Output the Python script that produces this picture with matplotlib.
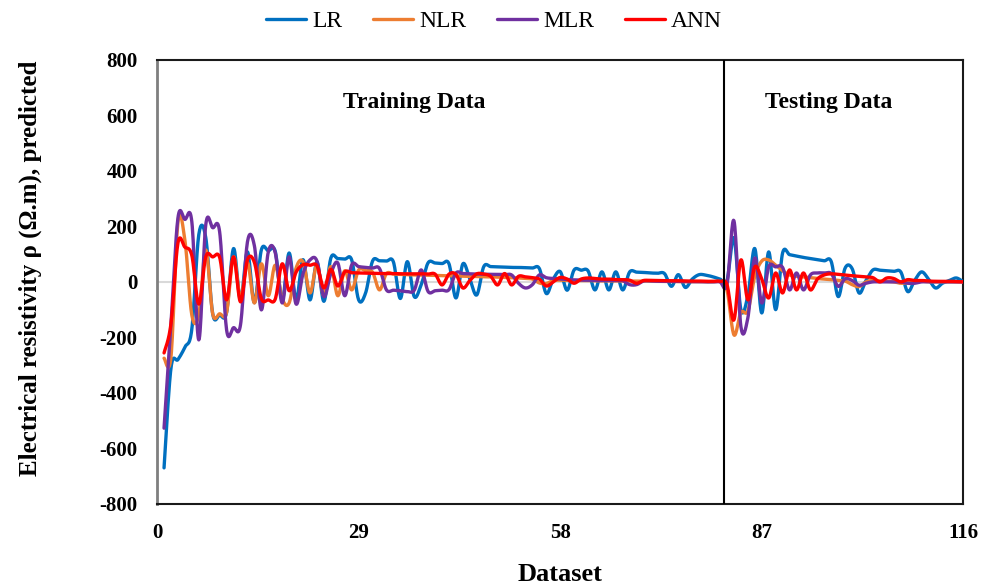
import numpy as np
import matplotlib
matplotlib.use("Agg")
import matplotlib.pyplot as plt

# ---------------- data ----------------
x_ticks = [0, 29, 58, 87, 116]
y_ticks = [-800, -600, -400, -200, 0, 200, 400, 600, 800]
split_x = 81.5
dataset = list(range(1, 117))

lr = [-670, -310, -280, -235, -170, 170, 160, -115, -120, -110,
      120, -65, 108, -75, 115, 112, 110, -65, 104, -65,
      80, -65, 72, -70, 86, 84, 82, 79, -65, -40,
      75, 76, 75, 72, -60, 73, -53, -10, 69, 68,
      66, 65, -58, 65, 10, -47, 55, 55, 54, 53,
      52, 52, 51, 50, 48, -42, 10, 37, -30, 43,
      42, 40, -29, 36, -29, 36, -29, 36, 35, 34,
      32, 31, 30, -16, 26, -20, 10, 26, 24, 18,
      10, 5, 158, -100, -50, 120, -112, 108, -100, 104,
      98, 93, 88, 84, 80, 76, 73, -53, 50, 48,
      -40, 5, 43, 42, 40, 38, 36, -35, 5, 36,
      10, -22, -5, 5, 14, 0]

nlr = [-275, -270, 215, 150, -120, -118, 115, -115, -115, -110,
       90, -60, 70, -76, 65, -50, 60, -60, -76, 50,
       72, -40, 60, -50, 55, -50, 40, -29, 43, 40,
       35, -29, 30, 28, 27, 26, 25, 24, 24, 23,
       22, 22, 21, 20, 20, 19, 18, 18, 17, 16,
       15, 14, 12, 10, -4, -6, 5, 6, 5, 5,
       5, 5, 4, 4, 4, 4, 3, 3, 3, 3,
       2, 2, 2, 2, 1, 1, 1, 1, 0, 0,
       0, -30, -191, -110, -105, 20, 75, 79, 60, 40,
       25, 20, 18, 15, 12, 10, 8, 5, 3, -10,
       -17, 0, 5, 3, 2, 0, -5, -3, 0, 2,
       0, 0, 0, 0, 0, 0]

mlr = [-527, -150, 230, 225, 216, -209, 205, 195, 180, -173,
       -165, -155, 144, 130, -101, 108, 105, -76, 90, -80,
       30, 79, 75, -53, 30, 68, -50, 61, 55, 52,
       50, 48, -29, -30, -32, -35, -30, 43, -35, -32,
       -30, -28, 32, 30, 29, 28, 28, 27, 27, 26,
       25, -5, -22, -10, 25, 15, 12, 10, 8, 7,
       6, 6, 5, 5, 5, 5, 4, -10, -10, 3,
       3, 2, 2, 2, 2, 1, 1, 1, 0, 0,
       0, -10, 220, -161, -130, 86, -76, 54, 54, 52,
       -29, 32, -29, 25, 32, 32, 30, -16, 11, 5,
       -12, -5, 0, 0, 0, 0, 0, -5, -5, 0,
       0, 0, 0, 0, 0, 0]

ann = [-256, -150, 140, 125, 95, -80, 90, 90, 88, -65,
       90, -72, 79, 70, -60, -65, -62, 65, -32, 35,
       62, 60, 58, -22, 45, -15, 36, 33, 32, 31,
       31, 30, 30, 30, 29, 29, 29, 29, 28, 28,
       -11, 28, 27, -22, 5, 29, 28, 20, -11, 30,
       -11, 20, 18, 15, 10, -15, 0, 16, 10, -5,
       10, 14, 12, 10, 10, 8, 8, 6, -5, 5,
       5, 5, 4, 4, 4, 3, 3, 3, 2, 2,
       2, -10, -137, 79, -65, 54, 10, -58, 32, -40,
       43, -29, 32, -29, 10, 25, 29, 27, 25, 22,
       20, 18, 15, 0, 14, 12, 0, 8, 5, 5,
       3, 2, 2, 2, 1, 0]

series = [("LR", lr, "#0070C0"), ("NLR", nlr, "#ED7D31"),
          ("MLR", mlr, "#7030A0"), ("ANN", ann, "#FF0000")]


def smooth(xs, ys, n=16):
    """Catmull-Rom rendering of a smoothed line (like Excel smoothed lines)."""
    xs = np.asarray(xs, float)
    ys = np.asarray(ys, float)
    P = np.column_stack([xs, ys])
    P = np.vstack([P[0], P, P[-1]])
    out = []
    t = np.linspace(0, 1, n, endpoint=False)[:, None]
    for i in range(1, len(P) - 2):
        p0, p1, p2, p3 = P[i - 1], P[i], P[i + 1], P[i + 2]
        c = 0.5 * ((2 * p1) + (-p0 + p2) * t + (2 * p0 - 5 * p1 + 4 * p2 - p3) * t ** 2
                   + (-p0 + 3 * p1 - 3 * p2 + p3) * t ** 3)
        out.append(c)
    out.append(P[-2][None, :])
    out = np.vstack(out)
    return out[:, 0], out[:, 1]


plt.rcParams['font.family'] = ['Liberation Serif', 'DejaVu Serif']
plt.rcParams['axes.unicode_minus'] = False

fig = plt.figure(figsize=(9.88, 5.86), dpi=100)
ax = fig.add_axes([0.159, 0.140, 0.816, 0.758])

ax.axhline(0, color="#d9d9d9", lw=1.5, zorder=1)

for name, vals, col in series:
    sx, sy = smooth(dataset, vals)
    ax.plot(sx, sy, color=col, lw=2.4, label=name, zorder=3,
            solid_joinstyle="round", solid_capstyle="round")

ax.axvline(split_x, color="black", lw=1.5, zorder=4)

ax.set_xlim(0, 116)
ax.set_ylim(-800, 800)
ax.set_xticks(x_ticks)
ax.set_yticks(y_ticks)
ax.tick_params(axis="y", length=0, labelsize=15, pad=14)
ax.tick_params(axis="x", length=0, labelsize=15, pad=14)
for lab in ax.get_xticklabels() + ax.get_yticklabels():
    lab.set_fontweight("bold")

for s in ["top", "right", "bottom"]:
    ax.spines[s].set_color("#1a1a1a")
    ax.spines[s].set_linewidth(1.5)
ax.spines["left"].set_color("#7f7f7f")
ax.spines["left"].set_linewidth(2.0)

ax.set_xlabel("Dataset", fontsize=19, fontweight="bold")
ax.xaxis.set_label_coords(0.5, -0.132)
ax.set_ylabel("Electrical resistivity ρ (Ω.m), predicted", fontsize=18,
              fontweight="bold")
ax.yaxis.set_label_coords(-0.143, 0.53)

ax.text(37, 645, "Training Data", ha="center", va="center", fontsize=17, fontweight="bold")
ax.text(96.7, 645, "Testing Data", ha="center", va="center", fontsize=17, fontweight="bold")

fig.legend(loc="center", bbox_to_anchor=(0.5, 0.963), ncol=4, frameon=False,
           fontsize=17, handlelength=1.7, columnspacing=1.3, handletextpad=0.25)

fig.savefig("out.png", dpi=100)
